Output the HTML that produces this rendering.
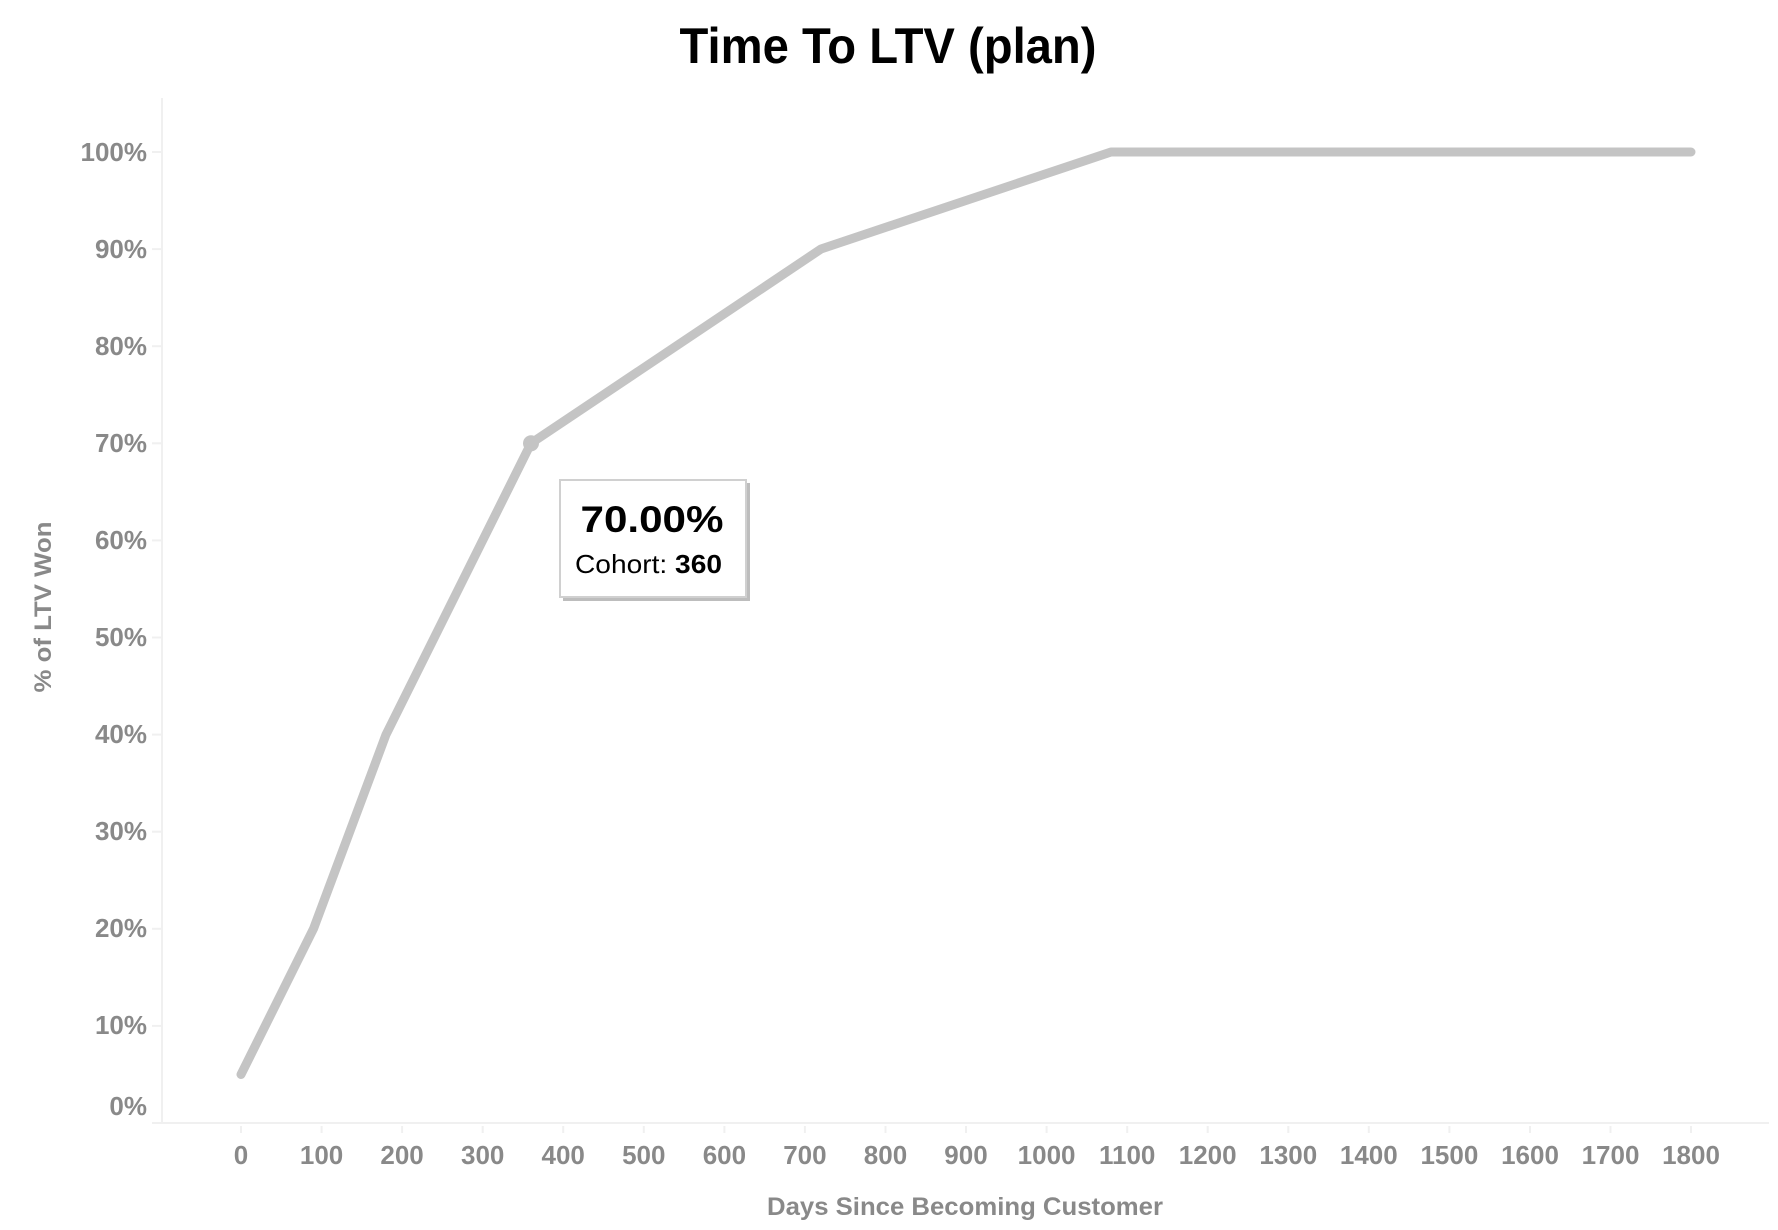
<!DOCTYPE html>
<html><head><meta charset="utf-8"><style>
html,body{margin:0;padding:0;background:#fff;}
svg{display:block;}
text{font-family:"Liberation Sans",sans-serif;font-weight:bold;}
</style></head><body>
<svg width="1778" height="1230" viewBox="0 0 1778 1230" xmlns="http://www.w3.org/2000/svg">
<text x="888" y="63" text-anchor="middle" font-size="50" fill="#000" textLength="417" lengthAdjust="spacingAndGlyphs">Time To LTV (plan)</text>
<line x1="162" y1="98" x2="162" y2="1124" stroke="#f0f0f0" stroke-width="2"/>
<line x1="152" y1="1123" x2="1769" y2="1123" stroke="#f0f0f0" stroke-width="2"/>
<g stroke="#f0f0f0" stroke-width="2">
<line x1="152" y1="152" x2="162" y2="152"/><line x1="152" y1="249.1" x2="162" y2="249.1"/><line x1="152" y1="346.2" x2="162" y2="346.2"/><line x1="152" y1="443.3" x2="162" y2="443.3"/><line x1="152" y1="540.4" x2="162" y2="540.4"/><line x1="152" y1="637.5" x2="162" y2="637.5"/><line x1="152" y1="734.6" x2="162" y2="734.6"/><line x1="152" y1="831.7" x2="162" y2="831.7"/><line x1="152" y1="928.8" x2="162" y2="928.8"/><line x1="152" y1="1025.9" x2="162" y2="1025.9"/>
</g>
<g font-size="26" fill="#898989" text-anchor="end">
<text x="147" y="161">100%</text><text x="147" y="258">90%</text><text x="147" y="355">80%</text><text x="147" y="452">70%</text><text x="147" y="549">60%</text><text x="147" y="646">50%</text><text x="147" y="743">40%</text><text x="147" y="840">30%</text><text x="147" y="937">20%</text><text x="147" y="1034">10%</text><text x="147" y="1115">0%</text>
</g>
<g stroke="#f0f0f0" stroke-width="2">
<line x1="241" y1="1126" x2="241" y2="1133"/><line x1="321.6" y1="1126" x2="321.6" y2="1133"/><line x1="402.1" y1="1126" x2="402.1" y2="1133"/><line x1="482.7" y1="1126" x2="482.7" y2="1133"/><line x1="563.2" y1="1126" x2="563.2" y2="1133"/><line x1="643.8" y1="1126" x2="643.8" y2="1133"/><line x1="724.4" y1="1126" x2="724.4" y2="1133"/><line x1="804.9" y1="1126" x2="804.9" y2="1133"/><line x1="885.5" y1="1126" x2="885.5" y2="1133"/><line x1="966" y1="1126" x2="966" y2="1133"/><line x1="1046.6" y1="1126" x2="1046.6" y2="1133"/><line x1="1127.2" y1="1126" x2="1127.2" y2="1133"/><line x1="1207.7" y1="1126" x2="1207.7" y2="1133"/><line x1="1288.3" y1="1126" x2="1288.3" y2="1133"/><line x1="1368.8" y1="1126" x2="1368.8" y2="1133"/><line x1="1449.4" y1="1126" x2="1449.4" y2="1133"/><line x1="1530" y1="1126" x2="1530" y2="1133"/><line x1="1610.5" y1="1126" x2="1610.5" y2="1133"/><line x1="1691" y1="1126" x2="1691" y2="1133"/>
</g>
<g font-size="26" fill="#898989" text-anchor="middle">
<text x="241" y="1164">0</text><text x="321.6" y="1164">100</text><text x="402.1" y="1164">200</text><text x="482.7" y="1164">300</text><text x="563.2" y="1164">400</text><text x="643.8" y="1164">500</text><text x="724.4" y="1164">600</text><text x="804.9" y="1164">700</text><text x="885.5" y="1164">800</text><text x="966" y="1164">900</text><text x="1046.6" y="1164">1000</text><text x="1127.2" y="1164">1100</text><text x="1207.7" y="1164">1200</text><text x="1288.3" y="1164">1300</text><text x="1368.8" y="1164">1400</text><text x="1449.4" y="1164">1500</text><text x="1530" y="1164">1600</text><text x="1610.5" y="1164">1700</text><text x="1691" y="1164">1800</text>
</g>
<text x="965" y="1215" text-anchor="middle" font-size="25" fill="#898989" textLength="396" lengthAdjust="spacingAndGlyphs">Days Since Becoming Customer</text>
<text transform="translate(51,607) rotate(-90)" text-anchor="middle" font-size="24" fill="#898989" textLength="171" lengthAdjust="spacingAndGlyphs">% of LTV Won</text>
<polyline points="241,1074.5 313.5,928.8 386,734.6 531,443.3 821,249 1111,152 1691,152" fill="none" stroke="#c4c4c4" stroke-width="9" stroke-linecap="round" stroke-linejoin="round"/>
<circle cx="531" cy="443.3" r="8" fill="#c4c4c4"/>
<rect x="563" y="483" width="187" height="118" fill="#bdbdbd"/>
<rect x="560" y="480" width="186" height="117" fill="#fff" stroke="#d0d0d0" stroke-width="2"/>
<text x="652" y="532" text-anchor="middle" font-size="37" fill="#000" textLength="143" lengthAdjust="spacingAndGlyphs">70.00%</text>
<text x="575" y="573" font-size="26" fill="#000" textLength="147" lengthAdjust="spacingAndGlyphs"><tspan font-weight="normal">Cohort: </tspan>360</text>
</svg>
</body></html>
